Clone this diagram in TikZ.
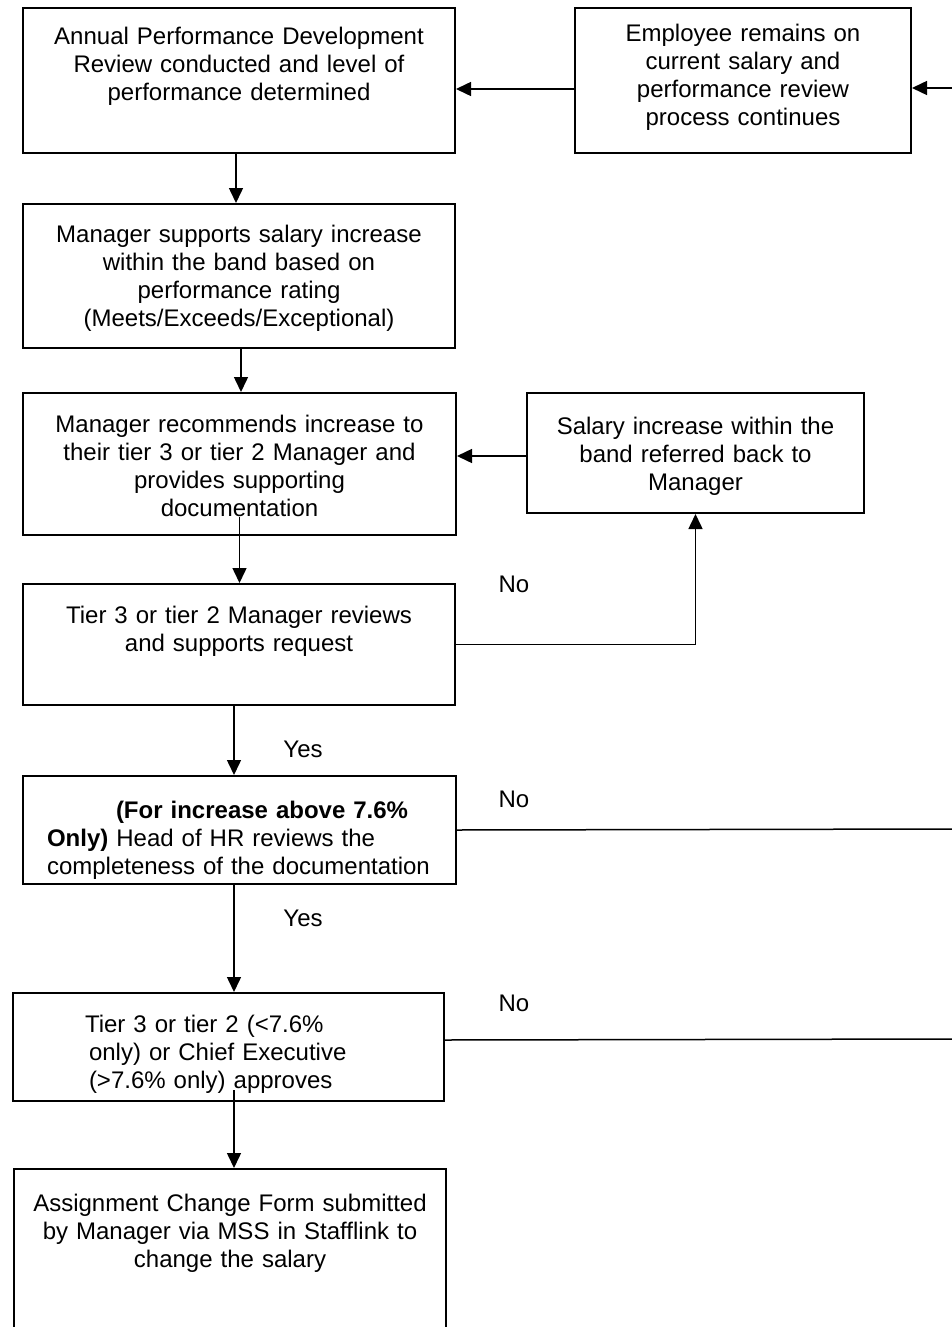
\documentclass[tikz,border=0pt]{standalone}
\usepackage{fontspec}
\setmainfont{Liberation Sans}
\usetikzlibrary{arrows.meta}

\begin{document}
\begin{tikzpicture}
[
x=1pt, y=-1pt,
every node/.style={font=\fontsize{24}{28}\selectfont},
box/.style={draw=black, line width=2pt, anchor=north west, inner xsep=6pt, inner ysep=0pt, align=center},
leftbox/.style={box, align=left},
arr/.style={line width=1.5pt, -{Triangle[length=15pt,width=14pt]}},
plain/.style={line width=1.5pt}
]
\useasboundingbox (0,0) rectangle (952,1327);
\clip (0,0) rectangle (952,1327);

%Nodes
\node[box, text width=420pt, text height=36.5pt, text depth=108.5pt] (review)    at (22,7)    {Annual Performance Development\\Review conducted and level of\\performance determined};
\node[box, text width=324pt, text height=33.5pt, text depth=111.5pt] (remain)    at (574,7)   {Employee remains on\\current salary and\\performance review\\process continues};
\node[box, text width=420pt, text height=38.5pt, text depth=105.5pt] (support)   at (22,203)  {Manager supports salary increase\\within the band based on\\performance rating\\(Meets/Exceeds/Exceptional)};
\node[box, text width=421pt, text height=39.5pt, text depth=102.5pt] (recommend) at (22,392)  {Manager recommends increase to\\their tier 3 or tier 2 Manager and\\provides supporting\\documentation};
\node[box, text width=325pt, text height=41.5pt, text depth=78.5pt]  (referred)  at (526,392) {Salary increase within the\\band referred back to\\Manager};
\node[box, text width=420pt, text height=39.5pt, text depth=81.5pt]  (reviews)   at (22,583)  {Tier 3 or tier 2 Manager reviews\\and supports request};
\node[leftbox, inner xsep=24pt, text width=385pt, text height=42pt, text depth=66pt] (hrcheck) at (22,775) {\hspace*{69pt}\textbf{(For increase above 7.6\%}\\\textbf{Only)} Head of HR reviews the\\completeness of the documentation};
\node[leftbox, inner xsep=72pt, text width=287pt, text height=39.5pt, text depth=68.5pt] (approve) at (12,992) {Tier 3 or tier 2 (<7.6\%\\\hspace*{4pt}only) or Chief Executive\\\hspace*{4pt}(>7.6\% only) approves};
\node[box, text width=420pt, text height=42.5pt, text depth=129.5pt] (submit)    at (13,1168) {Assignment Change Form submitted\\by Manager via MSS in Stafflink to\\change the salary};

\node (no1)  at (514,584)  {No};
\node (yes1) at (303,749)  {Yes};
\node (no2)  at (514,799)  {No};
\node (yes2) at (303,918)  {Yes};
\node (no3)  at (514,1003) {No};

\coordinate (edge1) at (952,88);
\coordinate (edge2) at (952,829);
\coordinate (edge3) at (952,1039);

%Lines
\draw[arr] ([xshift=-3pt]review.south) -- ([xshift=-3pt]support.north);
\draw[arr] ([xshift=2pt]support.south) -- ([xshift=1.5pt]recommend.north);
\draw[arr] ([yshift=19pt]recommend.south) -- (recommend.south |- reviews.north);
\draw[arr] ([xshift=-5pt]reviews.south) -- ([xshift=-5.5pt]hrcheck.north);
\draw[arr] ([xshift=-5.5pt]hrcheck.south) -- ([xshift=5.5pt]approve.north);
\draw[arr] ([xshift=5.5pt,yshift=12pt]approve.south) -- ([xshift=4pt]submit.north);

\draw[arr] ([yshift=-8.5pt]remain.west) -- ([yshift=-8.5pt]remain.west -| review.east);
\draw[arr] (edge1) -- (edge1 -| remain.east);
\draw[arr] ([yshift=-3pt]referred.west) -- ([yshift=-3pt]referred.west -| recommend.east);
\draw[arr] (reviews.east) -| (referred.south);
\draw[plain] (hrcheck.east) -- (edge2);
\draw[plain] ([yshift=7pt]approve.east) -- (edge3);

\end{tikzpicture}
\end{document}
